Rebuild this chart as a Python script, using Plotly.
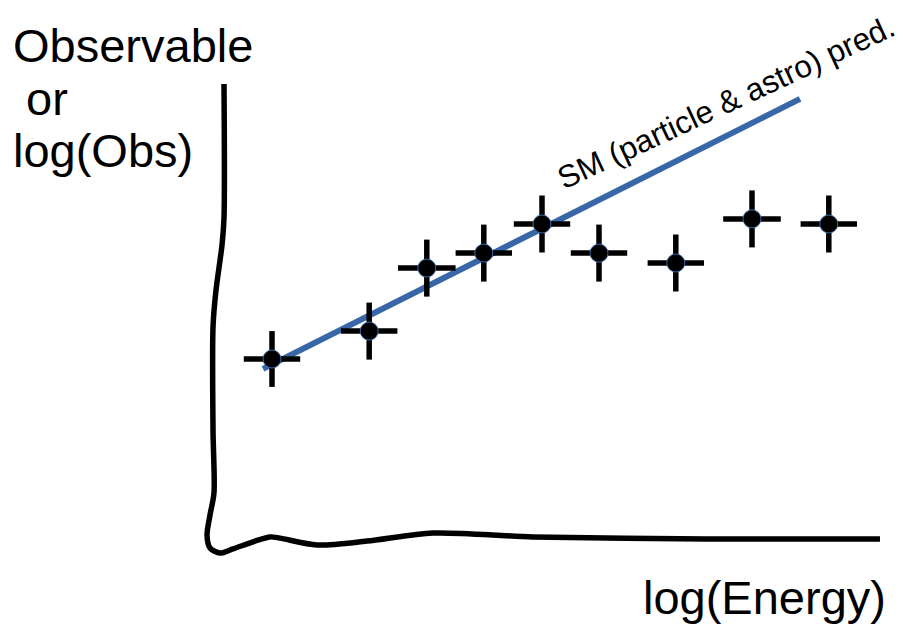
import plotly.graph_objects as go

# Measured points: log(Energy) bin centres and observable values
log_energy = [1.0, 2.62, 3.58, 4.53, 5.5, 6.45, 7.73, 9.0, 10.28]
observable = [6.3, 7.23, 9.33, 9.83, 10.8, 9.83, 9.5, 10.97, 10.8]
energy_err = [0.47, 0.47, 0.48, 0.47, 0.47, 0.47, 0.47, 0.48, 0.47]
obs_err = [0.93, 0.95, 0.95, 0.95, 0.95, 0.95, 0.95, 0.95, 0.95]

# Standard Model prediction (straight line in log-log)
sm_x = [0.85, 9.8]
sm_y = [5.97, 14.97]

# Hand-drawn axes (one continuous stroke)
axis_x = [0.2, 0.2, 0.167, 0.067, 0.017, 0.017, 0.033, -0.033, -0.083, -0.033,
          0.133, 0.35, 0.717, 0.967, 1.133, 1.75, 2.583, 3.683, 5.35, 8.25, 11.133]
axis_y = [15.47, 11.0, 10.1, 8.6, 7.37, 3.93, 1.83, 1.1, 0.43, 0.0,
          -0.17, -0.03, 0.23, 0.37, 0.33, 0.1, 0.23, 0.5, 0.37, 0.3, 0.3]

y_label_lines = ["Observable", "\u00a0or", "log(Obs)"]
x_label = "log(Energy)"
sm_label = "SM (particle & astro) pred."

W, H = 903, 628
FONT = "Liberation Sans, Arial, sans-serif"
SM_BLUE = "#3767a6"

fig = go.Figure()

fig.add_trace(go.Scatter(
    x=axis_x, y=axis_y, mode="lines",
    line=dict(color="black", width=5.5, shape="spline", smoothing=0.8),
    hoverinfo="skip", showlegend=False,
))

fig.add_trace(go.Scatter(
    x=sm_x, y=sm_y, mode="lines",
    line=dict(color=SM_BLUE, width=6),
    showlegend=False,
))

fig.add_trace(go.Scatter(
    x=log_energy, y=observable, mode="markers",
    marker=dict(color="black", size=18, line=dict(color=SM_BLUE, width=1)),
    error_x=dict(type="data", array=energy_err, color="black", thickness=5.5, width=0),
    error_y=dict(type="data", array=obs_err, color="black", thickness=5.5, width=0),
    showlegend=False,
))

# y-axis label, one annotation per line
for txt, py in zip(y_label_lines, [45.7, 98.7, 150.7]):
    fig.add_annotation(
        x=11 / W, y=1 - py / H, xref="paper", yref="paper",
        xanchor="left", yanchor="middle", text=txt, showarrow=False,
        font=dict(family=FONT, size=47, color="black"),
    )

fig.add_annotation(
    x=641 / W, y=1 - 597.7 / H, xref="paper", yref="paper",
    xanchor="left", yanchor="middle", text=x_label, showarrow=False,
    font=dict(family=FONT, size=47, color="black"),
)

fig.add_annotation(
    x=726 / W, y=1 - 102 / H, xref="paper", yref="paper",
    xanchor="center", yanchor="middle", text=sm_label, showarrow=False,
    textangle=-25,
    font=dict(family=FONT, size=31.5, color="black"),
)

fig.update_layout(
    width=W, height=H,
    margin=dict(l=0, r=0, t=0, b=0),
    paper_bgcolor="white", plot_bgcolor="white",
    xaxis=dict(range=[-212 / 60, (W - 212) / 60], visible=False, fixedrange=True),
    yaxis=dict(range=[-(H - 548) / 30, 548 / 30], visible=False, fixedrange=True),
)

fig.write_html("out.html")
